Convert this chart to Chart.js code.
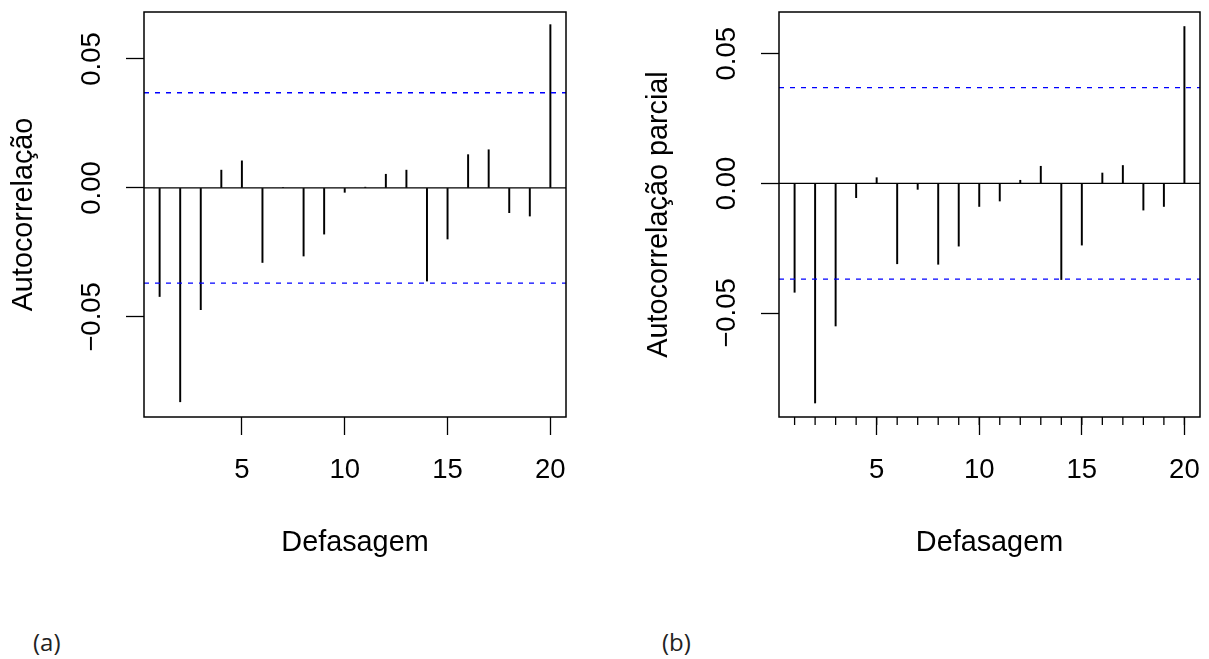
<!DOCTYPE html>
<html><head><meta charset="utf-8">
<script src="https://cdn.jsdelivr.net/npm/chart.js@4.4.1/dist/chart.umd.min.js"></script>
<style>
html,body{margin:0;padding:0;background:#fff;width:1209px;height:659px;overflow:hidden;}
.wrap{position:absolute;top:0;height:600px;}
#wa{left:0;width:600px;}
#wb{left:635px;width:574px;}
.cap{position:absolute;top:627px;font-family:"Open Sans";font-size:24px;color:#222;line-height:30px;}
</style></head><body>
<div class="wrap" id="wa"><canvas id="ca"></canvas></div>
<div class="wrap" id="wb"><canvas id="cb"></canvas></div>
<div class="cap" id="capA" style="left:33px"></div>
<div class="cap" id="capB" style="left:662px"></div>
<script>
// ---- data ----
const lags = [1,2,3,4,5,6,7,8,9,10,11,12,13,14,15,16,17,18,19,20];
const acfValues = [-0.0421,-0.0829,-0.0472,0.0069,0.0105,-0.0289,0.0002,-0.0264,-0.0179,-0.0017,
                   0.0003,0.0053,0.0069,-0.0361,-0.0198,0.0129,0.0148,-0.0096,-0.0109,0.0633];
const pacfValues = [-0.0420,-0.0847,-0.0550,-0.0055,0.0022,-0.0310,-0.0023,-0.0312,-0.0242,-0.0089,
                    -0.0068,0.0012,0.0066,-0.0371,-0.0238,0.0040,0.0069,-0.0103,-0.0089,0.0605];
const confLimit = 0.0369;
const xTicks = [5,10,15,20];
const yTicks = [-0.05,0,0.05];
const yTickLabels = ['\u22120.05','0.00','0.05'];
const xTitle = 'Defasagem';
const yTitleA = 'Autocorrelação';
const yTitleB = 'Autocorrelação parcial';
const panelLabels = ['(a)','(b)'];
const xRange = [0.24, 20.76];
const yRangeA = [-0.0888, 0.0682];
const yRangeB = [-0.0901, 0.0661];

document.getElementById('capA').textContent = panelLabels[0];
document.getElementById('capB').textContent = panelLabels[1];

const FONT = '"Liberation Sans", Arial, sans-serif';
const TICK_SIZE = 27.5;
const TITLE_SIZE = 28.8;

const decor = {
  id: 'decor',
  afterDraw(chart, args, opts) {
    const {ctx, chartArea: a, scales: {x, y}} = chart;
    ctx.save();
    ctx.strokeStyle = '#000';
    ctx.lineWidth = 1.5;
    ctx.strokeRect(a.left, a.top, a.right - a.left, a.bottom - a.top);
    ctx.fillStyle = '#000';
    ctx.font = TICK_SIZE + 'px ' + FONT;
    ctx.textAlign = 'center';
    ctx.textBaseline = 'middle';
    yTicks.forEach((v, i) => {
      const py = y.getPixelForValue(v);
      ctx.save();
      ctx.translate(a.left - 51.5, py);
      ctx.rotate(-Math.PI / 2);
      ctx.fillText(yTickLabels[i], 0, 0);
      ctx.restore();
    });
    if (opts.minor) {
      ctx.lineWidth = 1.3;
      lags.forEach(l => {
        const px = x.getPixelForValue(l);
        ctx.beginPath();
        ctx.moveTo(px, a.bottom);
        ctx.lineTo(px, a.bottom + 8);
        ctx.stroke();
      });
    }
    ctx.restore();
  }
};

function makeChart(id, values, yTitle, yRange, rightPad, minor) {
  const hline = (v, color, dash) => ({
    type: 'line',
    data: [{x: xRange[0], y: v}, {x: xRange[1], y: v}],
    borderColor: color, borderWidth: 1.3, borderDash: dash,
    pointRadius: 0, fill: false, order: 0
  });
  return new Chart(document.getElementById(id), {
    type: 'bar',
    data: {
      datasets: [
        {
          type: 'bar',
          data: lags.map((l, i) => ({x: l, y: values[i]})),
          backgroundColor: '#000', borderWidth: 0,
          barThickness: 1.3, order: 1
        },
        hline(0, '#000', []),
        hline(confLimit, '#0000ff', [5, 6]),
        hline(-confLimit, '#0000ff', [5, 6])
      ]
    },
    options: {
      responsive: true, maintainAspectRatio: false, animation: false,
      events: [],
      layout: {padding: {top: 12, left: 0, right: rightPad, bottom: 0}},
      plugins: {legend: {display: false}, tooltip: {enabled: false}, decor: {minor: minor}},
      scales: {
        x: {
          type: 'linear', offset: false, min: xRange[0], max: xRange[1],
          afterBuildTicks: s => { s.ticks = xTicks.map(v => ({value: v})); },
          afterFit: s => { s.height = 183; s.paddingLeft = 0; s.paddingRight = 0; },
          grid: {drawOnChartArea: false, drawTicks: true, tickLength: 18, tickWidth: 1.3, tickColor: '#000', offset: false},
          border: {display: false},
          ticks: {color: '#000', font: {family: FONT, size: TICK_SIZE}, padding: 18.5, maxRotation: 0, autoSkip: false},
          title: {display: true, text: xTitle, color: '#000', font: {family: FONT, size: TITLE_SIZE}, padding: {top: 0, bottom: 40}}
        },
        y: {
          type: 'linear', min: yRange[0], max: yRange[1],
          afterBuildTicks: s => { s.ticks = yTicks.map(v => ({value: v})); },
          afterFit: s => { s.width = 144; s.paddingTop = 0; s.paddingBottom = 0; },
          grid: {drawOnChartArea: false, drawTicks: true, tickLength: 18, tickWidth: 1.3, tickColor: '#000'},
          border: {display: false},
          ticks: {display: false},
          title: {display: true, text: yTitle, color: '#000', font: {family: FONT, size: TITLE_SIZE}, padding: {top: 6.7, bottom: 0}}
        }
      }
    },
    plugins: [decor]
  });
}

makeChart('ca', acfValues, yTitleA, yRangeA, 34, false);
makeChart('cb', pacfValues, yTitleB, yRangeB, 9, true);
</script>
</body></html>
